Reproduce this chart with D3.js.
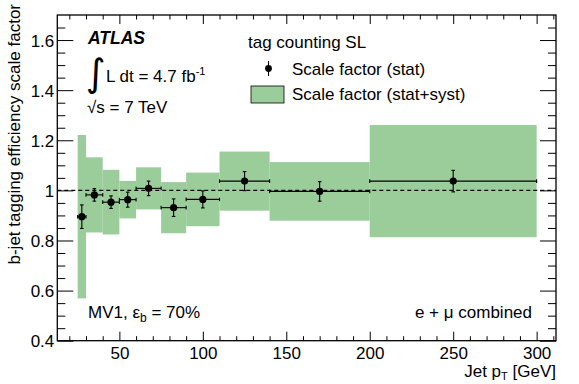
<!DOCTYPE html>
<html>
<head>
<meta charset="utf-8">
<script src="https://cdn.jsdelivr.net/npm/d3@7"></script>
<style>
  body { margin: 0; background: #fff; }
  svg { display: block; font-family: "Liberation Sans", Arial, sans-serif; }
  text { fill: #000; }
</style>
</head>
<body>
<svg id="chart" width="579" height="384"></svg>
<script>
// bins in jet pT [GeV]
const binLo = [25, 30, 40, 50, 60, 75, 90, 110, 140, 200];
const binHi = [30, 40, 50, 60, 75, 90, 110, 140, 200, 300];
// scale factor, stat error and total (stat+syst) error
const scaleFactor = [0.895, 0.982, 0.953, 0.963, 1.008, 0.931, 0.964, 1.037, 0.996, 1.037];
const statErr = [0.047, 0.025, 0.025, 0.030, 0.029, 0.035, 0.034, 0.038, 0.039, 0.043];
const totalErr = [0.326, 0.150, 0.129, 0.075, 0.084, 0.102, 0.107, 0.118, 0.117, 0.224];

const xMajor = [50, 100, 150, 200, 250, 300];
const yMajor = [0.4, 0.6, 0.8, 1.0, 1.2, 1.4, 1.6];

const bins = binLo.map((lo, i) => ({
  lo, hi: binHi[i], sf: scaleFactor[i], stat: statErr[i], tot: totalErr[i]
}));

const svg = d3.select('#chart');
const plotLeft = 57.3, plotRight = 556, plotTop = 15, plotBottom = 340.7;

const x = d3.scaleLinear().domain([12.8, 311.6]).range([plotLeft, plotRight]);
const y = d3.scaleLinear().domain([0.4, 1.7]).range([plotBottom, plotTop]);

const green = '#9bcd9b';

// stat+syst band
svg.append('g')
  .selectAll('rect')
  .data(bins)
  .enter()
  .append('rect')
  .attr('x', d => x(d.lo))
  .attr('width', d => x(d.hi) - x(d.lo))
  .attr('y', d => y(d.sf + d.tot))
  .attr('height', d => y(d.sf - d.tot) - y(d.sf + d.tot))
  .attr('fill', green);

// reference line at 1
svg.append('line')
  .attr('x1', plotLeft).attr('x2', plotRight)
  .attr('y1', y(1)).attr('y2', y(1))
  .attr('stroke', '#000')
  .attr('stroke-width', 1.4)
  .attr('stroke-dasharray', '4,3');

// axes (ticks pointing inwards, ROOT style)
const xMinor = d3.range(20, 311, 10).filter(v => v % 50 !== 0);
const yMinor = d3.range(0.45, 1.7, 0.05).filter(v => Math.abs(v * 5 - Math.round(v * 5)) > 1e-6);

function addTicks(axisFn, scale, values, size, transform, labels, fmt) {
  const g = svg.append('g')
    .attr('transform', transform)
    .call(axisFn(scale)
      .tickValues(values)
      .tickSize(-size)
      .tickPadding(labels ? 6 : 0)
      .tickFormat(labels ? fmt : ''));
  g.select('.domain').remove();
  g.selectAll('line').attr('stroke', '#000').attr('stroke-width', 1);
  g.selectAll('text').style('font-size', '17px').style('font-family', '"Liberation Sans", Arial, sans-serif');
  return g;
}

const yFmt = d => String(+d.toFixed(1));

addTicks(d3.axisBottom, x, xMajor, 9, `translate(0,${plotBottom})`, true, d => d)
  .selectAll('text').attr('dy', 0).attr('y', 18);
addTicks(d3.axisBottom, x, xMinor, 4.5, `translate(0,${plotBottom})`, false);
addTicks(d3.axisTop, x, xMajor, 9, `translate(0,${plotTop})`, false);
addTicks(d3.axisTop, x, xMinor, 4.5, `translate(0,${plotTop})`, false);

const yLab = addTicks(d3.axisLeft, y, yMajor, 16, `translate(${plotLeft},0)`, true, yFmt);
yLab.selectAll('text').attr('x', -3).attr('dy', '0.36em');
addTicks(d3.axisLeft, y, yMinor, 8, `translate(${plotLeft},0)`, false);
addTicks(d3.axisRight, y, yMajor, 16, `translate(${plotRight},0)`, false);
addTicks(d3.axisRight, y, yMinor, 8, `translate(${plotRight},0)`, false);

// stat error bars
const err = svg.append('g').attr('stroke', '#000').attr('stroke-width', 1.1);
bins.forEach(d => {
  const cx = x((d.lo + d.hi) / 2);
  err.append('line')
    .attr('x1', x(d.lo)).attr('x2', x(d.hi))
    .attr('y1', y(d.sf)).attr('y2', y(d.sf));
  err.append('line')
    .attr('x1', cx).attr('x2', cx)
    .attr('y1', y(d.sf - d.stat)).attr('y2', y(d.sf + d.stat));
  [d.sf - d.stat, d.sf + d.stat].forEach(v => {
    err.append('line')
      .attr('x1', cx - 1.8).attr('x2', cx + 1.8)
      .attr('y1', y(v)).attr('y2', y(v));
  });
  [d.lo, d.hi].forEach(v => {
    err.append('line')
      .attr('x1', x(v)).attr('x2', x(v))
      .attr('y1', y(d.sf) - 1.8).attr('y2', y(d.sf) + 1.8);
  });
});

svg.append('g')
  .selectAll('circle')
  .data(bins)
  .enter()
  .append('circle')
  .attr('cx', d => x((d.lo + d.hi) / 2))
  .attr('cy', d => y(d.sf))
  .attr('r', 3.6)
  .attr('fill', '#000');

// frame
svg.append('rect')
  .attr('x', plotLeft).attr('y', plotTop)
  .attr('width', plotRight - plotLeft).attr('height', plotBottom - plotTop)
  .attr('fill', 'none')
  .attr('stroke', '#000')
  .attr('stroke-width', 1.3);

// axis titles
const yTitle = svg.append('text')
  .attr('transform', 'translate(20,4) rotate(-90)')
  .attr('text-anchor', 'end')
  .style('font-size', '17px');
yTitle.text('b-jet tagging efficiency scale factor');

const xTitle = svg.append('text')
  .attr('x', plotRight)
  .attr('y', 377)
  .attr('text-anchor', 'end')
  .style('font-size', '17px');
xTitle.append('tspan').text('Jet p');
xTitle.append('tspan').attr('dy', 3).style('font-size', '11px').text('T');
xTitle.append('tspan').attr('dy', -3).text(' [GeV]');

// ATLAS labels
svg.append('text')
  .attr('x', 88).attr('y', 44)
  .style('font-size', '17.5px')
  .style('font-weight', 'bold')
  .style('font-style', 'italic')
  .text('ATLAS');

svg.append('text')
  .attr('x', 86).attr('y', 86)
  .style('font-size', '38px')
  .style('font-family', '"DejaVu Sans", sans-serif')
  .text('\u222B');

const lumi = svg.append('text')
  .attr('x', 106).attr('y', 82)
  .style('font-size', '17px');
lumi.append('tspan').text('L dt = 4.7 fb');
lumi.append('tspan').attr('dy', -7).style('font-size', '11px').text('-1');

svg.append('text')
  .attr('x', 87).attr('y', 113)
  .style('font-size', '17px')
  .text('\u221As = 7 TeV');

const mv1 = svg.append('text')
  .attr('x', 88).attr('y', 318)
  .style('font-size', '17px');
mv1.append('tspan').text('MV1, \u03B5');
mv1.append('tspan').attr('dy', 4).style('font-size', '12px').text('b');
mv1.append('tspan').attr('dy', -4).text(' = 70%');

svg.append('text')
  .attr('x', 532).attr('y', 318)
  .attr('text-anchor', 'end')
  .style('font-size', '17px')
  .text('e + \u03BC combined');

// legend
const legend = svg.append('g');
legend.append('text')
  .attr('x', 248).attr('y', 48)
  .style('font-size', '17px')
  .text('tag counting SL');

legend.append('line')
  .attr('x1', 268.5).attr('x2', 268.5)
  .attr('y1', 61).attr('y2', 76)
  .attr('stroke', '#000').attr('stroke-width', 1.1);
legend.append('circle')
  .attr('cx', 268.5).attr('cy', 68.5).attr('r', 3.4)
  .attr('fill', '#000');
legend.append('text')
  .attr('x', 292).attr('y', 75)
  .style('font-size', '17px')
  .text('Scale factor (stat)');

legend.append('rect')
  .attr('x', 251).attr('y', 86)
  .attr('width', 33).attr('height', 17)
  .attr('fill', green)
  .attr('stroke', '#000').attr('stroke-width', 0.8);
legend.append('text')
  .attr('x', 292).attr('y', 100)
  .style('font-size', '17px')
  .text('Scale factor (stat+syst)');
</script>
</body>
</html>
